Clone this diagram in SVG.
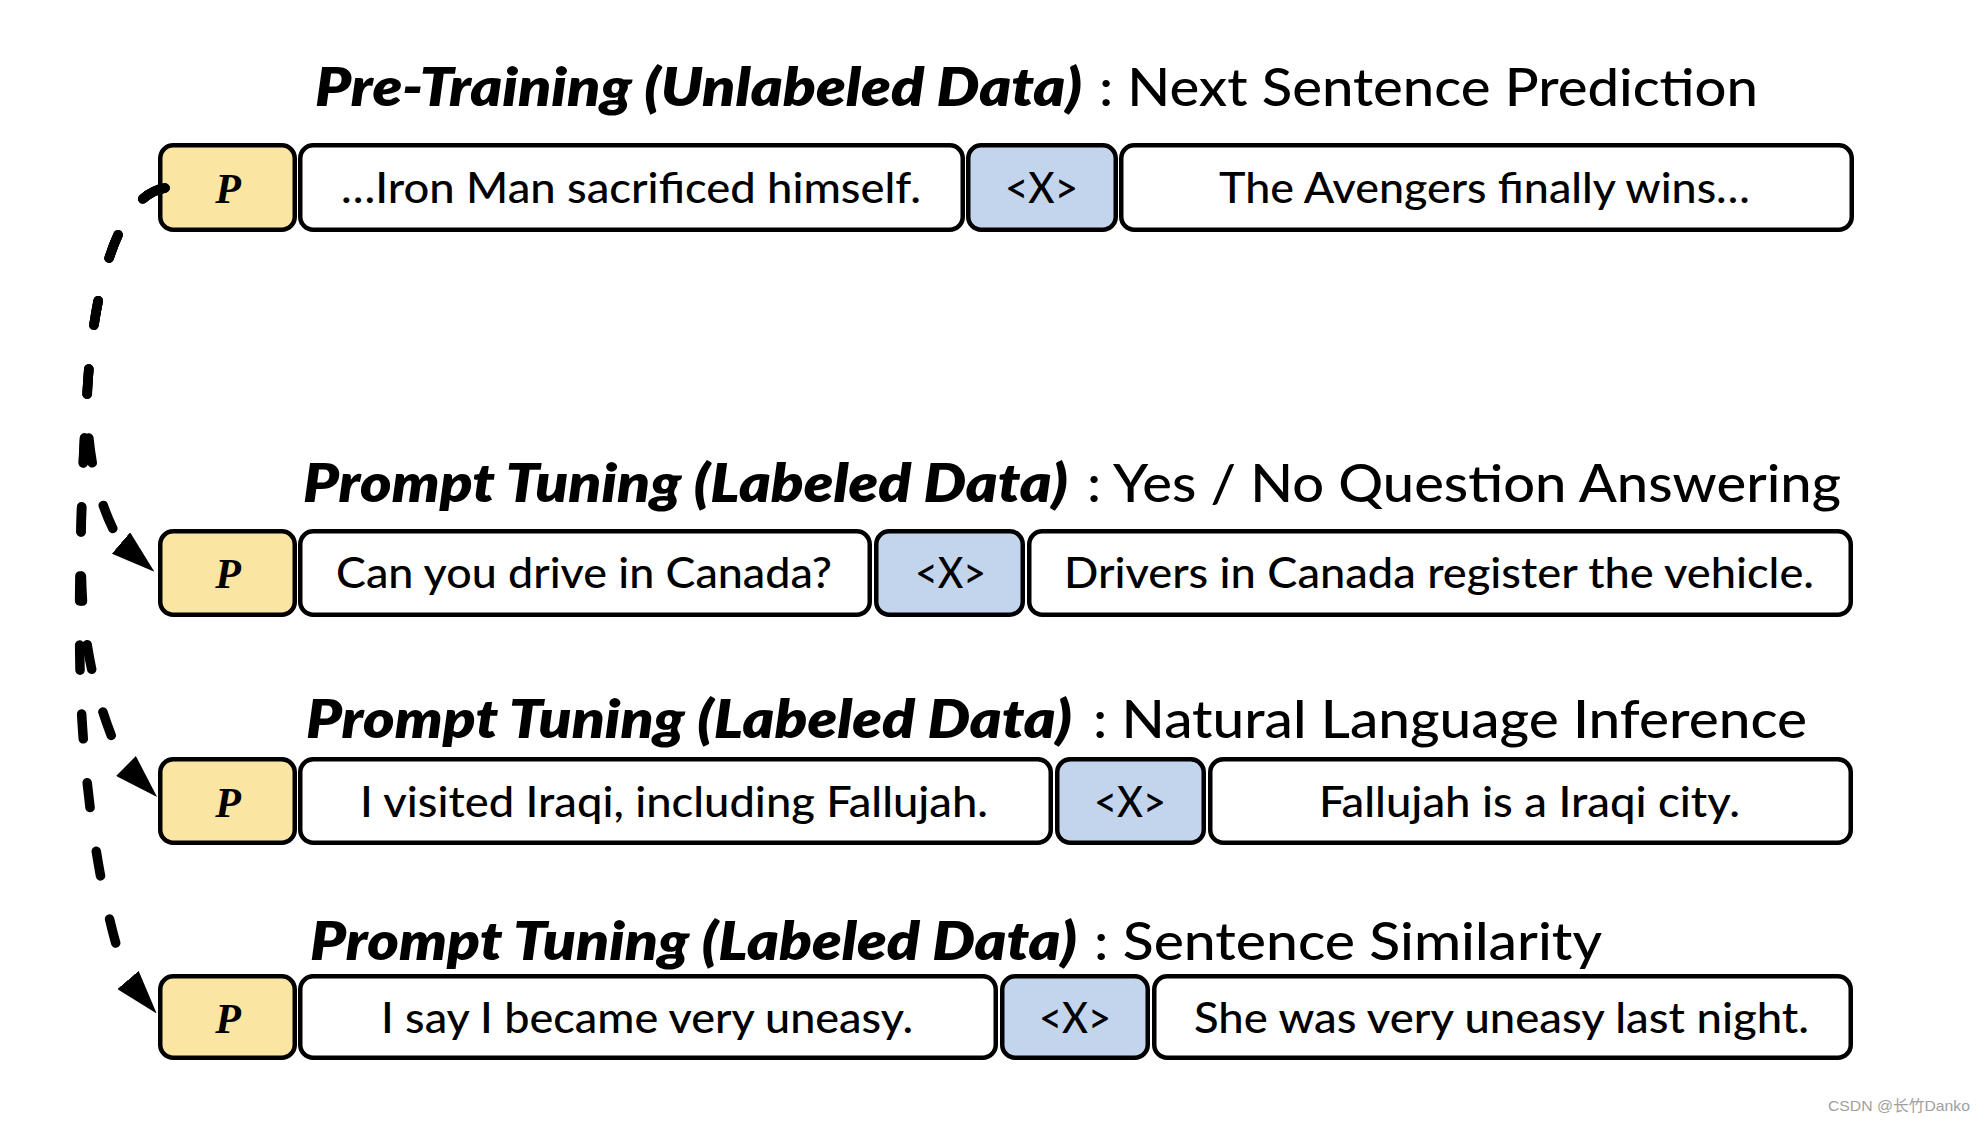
<svg xmlns="http://www.w3.org/2000/svg" width="1986" height="1124" viewBox="0 0 1986 1124">
<defs>
<style>
.bx{stroke:#000;stroke-width:4.5}
.p{fill:#FBE5A2}
.w{fill:#fff}
.x{fill:#C3D5EC}
.tb{font-family:Lato,"Open Sans","Liberation Sans",sans-serif;font-weight:800;font-style:italic;font-size:53px;fill:#000}
.tr{font-family:Lato,"Open Sans","Liberation Sans",sans-serif;font-weight:500;font-size:53px;fill:#000}
.t{font-family:Lato,"Open Sans","Liberation Sans",sans-serif;font-weight:500;font-size:43px;fill:#000}
.pl{font-family:"Liberation Serif","DejaVu Serif",serif;font-weight:700;font-style:italic;font-size:42px;fill:#000}
.c{fill:none;stroke:#000;stroke-width:9.5;stroke-linecap:round;stroke-dasharray:25 44}
</style>
<marker id="ah" markerUnits="userSpaceOnUse" viewBox="0 0 44 28" refX="0" refY="14" markerWidth="44" markerHeight="28" orient="auto">
<path d="M0,0 L44,14 L0,28 z" fill="#000"/>
</marker>
</defs>
<rect width="1986" height="1124" fill="#fff"/>

<g id="title1">
<text class="tb" x="315" y="106" textLength="767" lengthAdjust="spacingAndGlyphs">Pre-Training (Unlabeled Data)</text>
<text class="tr" x="1099" y="106" textLength="659" lengthAdjust="spacingAndGlyphs">: Next Sentence Prediction</text>
</g>
<g id="title2">
<text class="tb" x="303" y="502" textLength="765" lengthAdjust="spacingAndGlyphs">Prompt Tuning (Labeled Data)</text>
<text class="tr" x="1087" y="502" textLength="754" lengthAdjust="spacingAndGlyphs">: Yes / No Question Answering</text>
</g>
<g id="title3">
<text class="tb" x="306" y="738" textLength="766" lengthAdjust="spacingAndGlyphs">Prompt Tuning (Labeled Data)</text>
<text class="tr" x="1093" y="738" textLength="714" lengthAdjust="spacingAndGlyphs">: Natural Language Inference</text>
</g>
<g id="title4">
<text class="tb" x="310" y="960" textLength="767" lengthAdjust="spacingAndGlyphs">Prompt Tuning (Labeled Data)</text>
<text class="tr" x="1094" y="960" textLength="508" lengthAdjust="spacingAndGlyphs">: Sentence Similarity</text>
</g>

<g id="row1">
<g id="r1-p"><rect class="bx p" x="160.25" y="145.25" width="134.5" height="84.5" rx="13"/><text class="pl" x="228" y="203" text-anchor="middle">P</text></g>
<g id="r1-s1"><rect class="bx w" x="300.25" y="145.25" width="662.5" height="84.5" rx="13"/><text class="t" x="341" y="203" textLength="580" lengthAdjust="spacingAndGlyphs">…Iron Man sacrificed himself.</text></g>
<g id="r1-x"><rect class="bx x" x="968.25" y="145.25" width="147.5" height="84.5" rx="13"/><text class="t" x="1005" y="203" textLength="73" lengthAdjust="spacingAndGlyphs">&lt;X&gt;</text></g>
<g id="r1-s2"><rect class="bx w" x="1121.25" y="145.25" width="730.5" height="84.5" rx="13"/><text class="t" x="1219" y="203" textLength="531" lengthAdjust="spacingAndGlyphs">The Avengers finally wins…</text></g>
</g>

<g id="row2">
<g id="r2-p"><rect class="bx p" x="160.25" y="531.25" width="134.5" height="83.5" rx="13"/><text class="pl" x="228" y="588" text-anchor="middle">P</text></g>
<g id="r2-s1"><rect class="bx w" x="300.25" y="531.25" width="569.5" height="83.5" rx="13"/><text class="t" x="336" y="588" textLength="496" lengthAdjust="spacingAndGlyphs">Can you drive in Canada?</text></g>
<g id="r2-x"><rect class="bx x" x="876.25" y="531.25" width="146.5" height="83.5" rx="13"/><text class="t" x="915" y="588" textLength="71" lengthAdjust="spacingAndGlyphs">&lt;X&gt;</text></g>
<g id="r2-s2"><rect class="bx w" x="1029.25" y="531.25" width="821.5" height="83.5" rx="13"/><text class="t" x="1064" y="588" textLength="750" lengthAdjust="spacingAndGlyphs">Drivers in Canada register the vehicle.</text></g>
</g>

<g id="row3">
<g id="r3-p"><rect class="bx p" x="160.25" y="759.25" width="134.5" height="83.5" rx="13"/><text class="pl" x="228" y="817" text-anchor="middle">P</text></g>
<g id="r3-s1"><rect class="bx w" x="300.25" y="759.25" width="750.5" height="83.5" rx="13"/><text class="t" x="360" y="817" textLength="628" lengthAdjust="spacingAndGlyphs">I visited Iraqi, including Fallujah.</text></g>
<g id="r3-x"><rect class="bx x" x="1057.25" y="759.25" width="146.5" height="83.5" rx="13"/><text class="t" x="1094" y="817" textLength="72" lengthAdjust="spacingAndGlyphs">&lt;X&gt;</text></g>
<g id="r3-s2"><rect class="bx w" x="1210.25" y="759.25" width="640.5" height="83.5" rx="13"/><text class="t" x="1319" y="817" textLength="421" lengthAdjust="spacingAndGlyphs">Fallujah is a Iraqi city.</text></g>
</g>

<g id="row4">
<g id="r4-p"><rect class="bx p" x="160.25" y="976.25" width="134.5" height="81.5" rx="13"/><text class="pl" x="228" y="1033" text-anchor="middle">P</text></g>
<g id="r4-s1"><rect class="bx w" x="300.25" y="976.25" width="695.5" height="81.5" rx="13"/><text class="t" x="381" y="1033" textLength="532" lengthAdjust="spacingAndGlyphs">I say I became very uneasy.</text></g>
<g id="r4-x"><rect class="bx x" x="1002.25" y="976.25" width="145.5" height="81.5" rx="13"/><text class="t" x="1039" y="1033" textLength="72" lengthAdjust="spacingAndGlyphs">&lt;X&gt;</text></g>
<g id="r4-s2"><rect class="bx w" x="1154.25" y="976.25" width="696.5" height="81.5" rx="13"/><text class="t" x="1194" y="1033" textLength="615" lengthAdjust="spacingAndGlyphs">She was very uneasy last night.</text></g>
</g>

<g id="connectors">
<path class="c" marker-end="url(#ah)" d="M165,188 C120,195 95,280 88,380 C84,440 95,500 120.3,542.4 L121,543"/>
<path class="c" marker-end="url(#ah)" d="M165,188 C120,195 95,280 88,380 C82,470 78,560 84,620 C90,680 108,735 125.3,765.3 L126,766"/>
<path class="c" marker-end="url(#ah)" d="M165,188 C120,195 95,280 88,380 C82,470 76,620 82,720 C88,820 105,920 127.4,979.3 L128,980"/>
</g>

<text x="1828" y="1111" font-family="'Liberation Sans','Noto Sans CJK SC',sans-serif" font-size="15" fill="#a0a0a0" textLength="142" lengthAdjust="spacingAndGlyphs">CSDN @长竹Danko</text>
</svg>
